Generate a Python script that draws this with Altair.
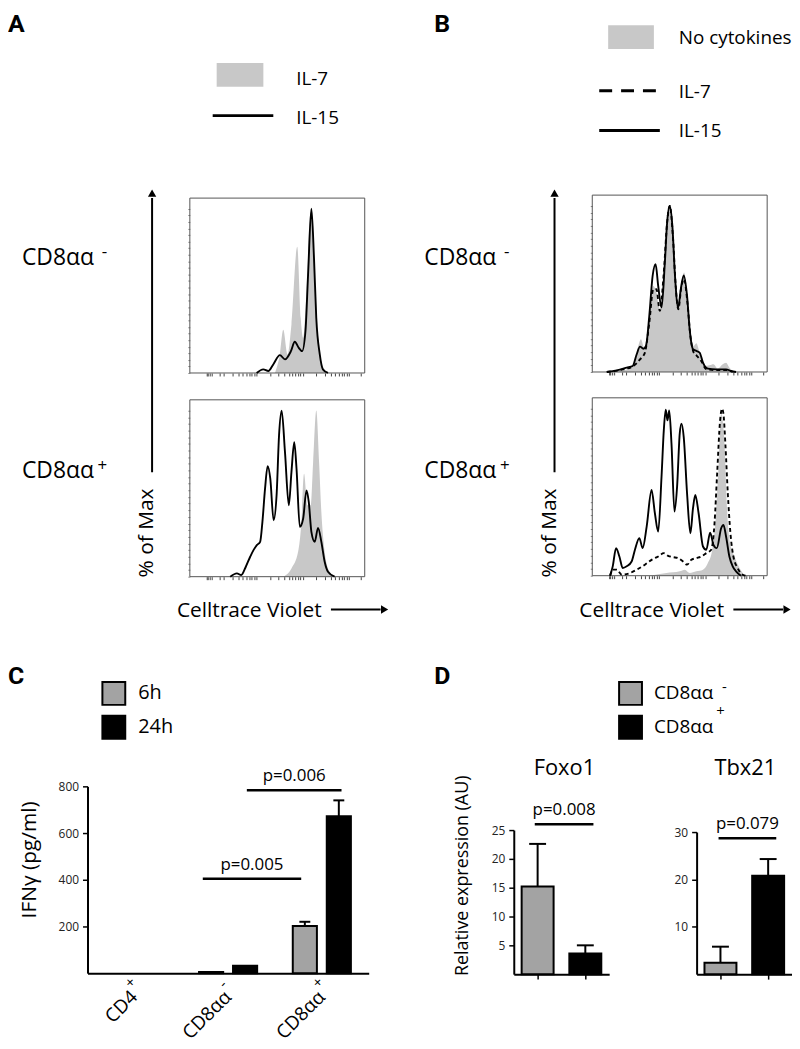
import altair as alt
import pandas as pd

# ------------------------------------------------------------------ data
# Flow histograms: x = position along the Celltrace Violet axis (0-100 % of axis),
# y = % of max.  Vertex lists.
HIST_X_TICKS = [9.5, 10.5, 11.5, 12.5, 17.0, 19.6, 24.3, 27.6, 30.2, 32.2, 34.0, 35.5,
                36.9, 38.1, 46.0, 50.7, 54.0, 56.6, 58.6, 60.4, 61.9, 63.2, 64.5, 72.4,
                77.1, 80.4, 83.0, 85.0, 86.8, 88.3, 89.6, 90.9, 97.5]
HIST_Y_TICKS = [0, 4, 8, 12, 16, 20, 24, 28, 32, 36, 40, 44, 48, 52, 56, 60, 64, 68,
                72, 76, 80, 84, 88, 92, 96, 100]

A_TOP_IL7_X = [48.7, 51.5, 53.4, 55.9, 58.1, 61.4, 63.4, 64.8, 66.7, 69.1, 71.4, 73.3, 75.6, 78.4]
A_TOP_IL7_Y = [0, 11.5, 26.4, 11.3, 29.5, 76.8, 33.5, 21.4, 49.6, 98, 59.7, 21.4, 4.2, 0]
A_TOP_IL15_X = [38.2, 42.0, 44.9, 47.7, 51.5, 54.4, 57.8, 60.0, 62.3, 64.2, 66.1, 67.6,
                69.5, 71.0, 72.3, 74.3, 76.1, 79.0]
A_TOP_IL15_Y = [0, 2.2, 1.2, 5.2, 10.9, 8.3, 13.3, 19.0, 15.3, 13.3, 25.4, 59.7,
                100, 69.8, 33.5, 11.3, 2.2, 0]

A_BOT_IL7_X = [53.4, 58.1, 61.9, 63.8, 65.3, 67.2, 69.1, 70.5, 72.3, 73.9, 75.2, 77.1, 79.0, 81.8, 83.5]
A_BOT_IL7_Y = [0, 5, 15, 33, 62, 43, 43, 69, 100, 69, 39, 15, 5, 1, 0]
A_BOT_IL15_X = [23.1, 26.9, 29.4, 32.0, 34.5, 36.4, 38.3, 40.2, 41.5, 43.0, 44.5, 46.0,
                47.9, 49.6, 51.0, 52.5, 54.4, 56.6, 58.1, 59.7, 61.0, 62.9, 64.8, 66.7,
                68.0, 69.5, 71.4, 73.3, 75.2, 77.1, 79.0, 82.8]
A_BOT_IL15_Y = [0, 2.0, 1.0, 6.0, 12, 16, 19, 21, 33, 53, 66.6, 59,
                34, 49, 85, 100, 75, 43, 63, 81, 65, 30, 35, 52,
                45, 27, 21, 29.4, 21, 9, 3, 0]

B_TOP_NONE_X = [10.2, 17.8, 23.5, 26.3, 27.8, 29.7, 32.6, 34.9, 36.7, 38.6, 40.9, 42.8,
                44.3, 46.2, 47.7, 49.2, 51.0, 52.5, 54.4, 56.1, 58.0, 59.5, 61.4, 64.2,
                67.0, 69.3, 71.8, 74.6, 76.5, 78.4, 81.2]
B_TOP_NONE_Y = [0, 1, 3.6, 15.7, 19.7, 14.7, 31.8, 51.8, 47.8, 37.8, 61.9, 90,
                99, 80, 55.8, 39.8, 53.8, 59.9, 43.8, 23.7, 15.7, 17.3, 11.7, 3.6,
                4, 4.6, 2, 4.6, 5.6, 2.6, 0]
B_TOP_IL7_X = [8.3, 17.8, 23.5, 27.3, 30.1, 32.6, 34.9, 36.7, 38.6, 40.9, 42.8, 44.3,
               46.2, 47.7, 49.2, 51.0, 52.5, 54.4, 56.1, 58.0, 59.9, 62.3, 65.2, 70.8,
               76.5, 80.3]
B_TOP_IL7_Y = [0, 1.6, 3.6, 7.6, 11.7, 29.7, 49.8, 49.8, 36.8, 59.9, 90, 100,
               80, 52, 37.8, 51.8, 55.8, 41.8, 21.7, 11.7, 9.6, 6.6, 1.6, 1.2,
               1.2, 0]
B_TOP_IL15_X = [8.3, 14.0, 19.7, 23.1, 25.4, 27.3, 29.2, 30.7, 32.6, 34.5, 36.2, 37.7,
                39.6, 41.5, 42.8, 44.3, 45.8, 47.3, 49.1, 50.6, 52.3, 54.2, 55.7, 57.6,
                59.5, 61.4, 63.3, 66.1, 70.8, 76.5, 79.4, 82.2]
B_TOP_IL15_Y = [0, 1, 2.6, 3.6, 10.7, 15.3, 14, 15.7, 33.7, 57.8, 64.9, 51.8,
                38.8, 65.9, 90, 100, 88, 57.8, 38.8, 49.8, 58.2, 45.8, 25.7, 13.7,
                12.7, 11.7, 5.6, 2, 1.6, 1.6, 0.6, 0]

B_BOT_NONE_X = [33.0, 42.4, 50.0, 52.9, 55.7, 59.5, 63.3, 66.1, 68.6, 70.5, 72.4, 73.7,
                75.6, 76.9, 78.4, 81.3, 83.7, 86.0, 87.9]
B_BOT_NONE_Y = [0, 1.6, 2.6, 3.6, 1.6, 2.6, 3.6, 7.6, 15.5, 33.4, 69.2, 97,
                79, 43.3, 21.5, 11.5, 5.6, 1.6, 0]
B_BOT_IL7_X = [10.2, 11.7, 14.0, 16.9, 21.6, 25.4, 30.1, 33.9, 37.7, 40.9, 43.4, 46.2,
               49.1, 51.9, 54.2, 56.6, 59.5, 62.3, 65.2, 68.0, 69.9, 71.4, 73.1, 74.2,
               75.0, 76.1, 77.5, 79.0, 80.7, 83.1, 86.0, 87.9]
B_BOT_IL7_Y = [0, 3.6, 3.6, 0.6, 1.6, 3.6, 6.6, 9.5, 11.5, 13.5, 11.9, 11.1,
               10.5, 8.5, 6.6, 9.5, 10.5, 11.5, 13.5, 15.5, 31.4, 61.2, 93, 100,
               97, 79, 49.3, 25.4, 11.5, 4.6, 0.6, 0]
B_BOT_IL15_X = [10.2, 11.7, 13.6, 15.5, 17.4, 19.7, 22.5, 24.4, 26.9, 28.8, 31.1, 33.9,
                35.8, 37.7, 39.6, 40.9, 42.0, 43.0, 44.0, 45.3, 47.0, 48.5, 50.0, 51.0,
                52.3, 54.2, 56.1, 57.6, 58.9, 60.8, 63.3, 65.2, 67.4, 69.3, 71.2, 73.7,
                75.0, 76.5, 78.4, 80.3, 82.2, 85.0]
B_BOT_IL15_Y = [0, 5.6, 16.5, 11.5, 4.6, 5.6, 8.5, 15.5, 22.5, 16.5, 29.4, 51.3,
                37.4, 26.4, 59.2, 87, 99.4, 93, 99, 79, 38.4, 53.3, 85, 91,
                83, 49.3, 25.4, 40.4, 48.3, 37.4, 17.5, 15.5, 25.8, 18.5, 16.5, 28.4,
                30.4, 23.5, 11.5, 5.6, 2.6, 0]

# Panel C: IFN-gamma
C_CAT_BASE = ["CD4", "CD8αα", "CD8αα"]
C_CAT_SUP = ["+", "-", "+"]
C_CATS = [b + s for b, s in zip(C_CAT_BASE, C_CAT_SUP)]
C_GROUPS = ["6h", "24h"]
C_6H = [0, 5, 202]
C_6H_ERR = [None, None, 220]
C_24H = [0, 32, 672]
C_24H_ERR = [None, None, 740]
C_Y_TICKS = [200, 400, 600, 800]
C_P_LABELS = ["p=0.005", "p=0.006"]
C_P_FROM = [0.73, 1.20]      # in category units (0 = first category centre)
C_P_TO = [1.78, 2.21]
C_P_Y = [404, 783]

# Panel D: qPCR
D_CAT_BASE = ["CD8αα", "CD8αα"]
D_CAT_SUP = ["-", "+"]
D_CATS = [b + s for b, s in zip(D_CAT_BASE, D_CAT_SUP)]
D_GENES = ["Foxo1", "Tbx21"]
FOXO1 = [15.2, 3.6]
FOXO1_ERR = [22.6, 5.0]
TBX21 = [2.4, 20.8]
TBX21_ERR = [5.8, 24.3]
FOXO1_TICKS = [5, 10, 15, 20, 25]
TBX21_TICKS = [10, 20, 30]
D_P_LABELS = ["p=0.008", "p=0.079"]
D_P_FROM = [-0.06, -0.04]
D_P_TO = [1.17, 1.17]
D_P_Y = [26.0, 28.7]

# Texts
PANEL_LETTERS = ["A", "B", "C", "D"]
ROW_BASE = "CD8αα"
ROW_SUP = ["-", "+"]
Y_CAPTION = "% of Max"
X_CAPTION = "Celltrace Violet"
LEGEND_A = ["IL-7", "IL-15"]
LEGEND_B = ["No cytokines", "IL-7", "IL-15"]
C_YTITLE = "IFNγ  (pg/ml)"
D_YTITLE = "Relative expression (AU)"

# ------------------------------------------------------------------ style / layout
W, H = 784, 1033
FONT = "Open Sans"
HIST_GRAY = "#c8c8c8"
BAR_GRAY = "#a3a3a3"
YMAX = 106.5


def P(v):
    """page pixel -> plot pixel"""
    return v - 8


def one():
    return pd.DataFrame({"k": [0]})


def txt(s, x, y, size=19, align="left", baseline="middle", angle=0, weight="normal",
        font=FONT):
    return alt.Chart(pd.DataFrame({"t": [s]})).mark_text(
        align=align, baseline=baseline, fontSize=size, font=font, fontWeight=weight,
        angle=angle, color="black"
    ).encode(x=alt.value(P(x)), y=alt.value(P(y)), text="t:N")


def hrule(x1, x2, y, width=3, dash=None):
    kw = dict(color="black", strokeWidth=width)
    if dash:
        kw["strokeDash"] = dash
    return alt.Chart(one()).mark_rule(**kw).encode(
        x=alt.value(P(x1)), x2=alt.value(P(x2)), y=alt.value(P(y)))


def vrule(x, y1, y2, width=2):
    return alt.Chart(one()).mark_rule(color="black", strokeWidth=width).encode(
        x=alt.value(P(x)), y=alt.value(P(y1)), y2=alt.value(P(y2)))


def swatch(x1, x2, y1, y2, color):
    return alt.Chart(one()).mark_rect(color=color).encode(
        x=alt.value(P(x1)), x2=alt.value(P(x2)), y=alt.value(P(y1)), y2=alt.value(P(y2)))


def head(x, y, shape):
    return alt.Chart(one()).mark_point(shape=shape, filled=True, color="black",
                                       opacity=1, size=70).encode(
        x=alt.value(P(x)), y=alt.value(P(y)))


def hist(box, fills, solids, dashes):
    l, t, r, b = box
    sx = alt.Scale(domain=[0, 100], range=[P(l), P(r)], nice=False, zero=False)
    sy = alt.Scale(domain=[0, YMAX], range=[P(b), P(t)], nice=False, zero=False)
    axx = alt.Axis(orient="bottom", offset=P(b) - H, values=HIST_X_TICKS, labels=False,
                   domain=False, ticks=True, tickSize=3, tickColor="#444", tickWidth=1,
                   grid=False, title=None)
    axy = alt.Axis(orient="left", offset=-P(l), values=HIST_Y_TICKS, labels=False,
                   domain=False, ticks=True, tickSize=2, tickColor="#888", tickWidth=1,
                   grid=False, title=None)
    layers = []
    for xs, ys in fills:
        layers.append(alt.Chart(pd.DataFrame({"x": xs, "y": ys})).mark_area(
            color=HIST_GRAY, interpolate="monotone", opacity=1).encode(
            x=alt.X("x:Q", scale=sx, axis=axx), y=alt.Y("y:Q", scale=sy, axis=axy)))
    frame = pd.DataFrame({"x0": [0], "x1": [100], "y0": [0], "y1": [YMAX]})
    layers.append(alt.Chart(frame).mark_rect(fillOpacity=0, stroke="#555", strokeWidth=1).encode(
        x=alt.X("x0:Q", scale=sx, axis=axx), x2="x1:Q",
        y=alt.Y("y0:Q", scale=sy, axis=axy), y2="y1:Q"))
    for xs, ys in dashes:
        layers.append(alt.Chart(pd.DataFrame({"x": xs, "y": ys})).mark_line(
            color="black", strokeWidth=1.9, strokeDash=[4, 3], interpolate="monotone").encode(
            x=alt.X("x:Q", scale=sx, axis=axx), y=alt.Y("y:Q", scale=sy, axis=axy)))
    for xs, ys in solids:
        layers.append(alt.Chart(pd.DataFrame({"x": xs, "y": ys})).mark_line(
            color="black", strokeWidth=1.9, interpolate="monotone").encode(
            x=alt.X("x:Q", scale=sx, axis=axx), y=alt.Y("y:Q", scale=sy, axis=axy)))
    return alt.layer(*layers)


layers = []

# ---------------- panels A / B : histograms
BOX_A_TOP = (191, 196, 367, 372)
BOX_A_BOT = (191, 399, 367, 577)
BOX_B_TOP = (596, 193, 772, 371)
BOX_B_BOT = (596, 397, 772, 576)

layers.append(hist(BOX_A_TOP, [(A_TOP_IL7_X, A_TOP_IL7_Y)], [(A_TOP_IL15_X, A_TOP_IL15_Y)], []))
layers.append(hist(BOX_A_BOT, [(A_BOT_IL7_X, A_BOT_IL7_Y)], [(A_BOT_IL15_X, A_BOT_IL15_Y)], []))
layers.append(hist(BOX_B_TOP, [(B_TOP_NONE_X, B_TOP_NONE_Y)], [(B_TOP_IL15_X, B_TOP_IL15_Y)],
                   [(B_TOP_IL7_X, B_TOP_IL7_Y)]))
layers.append(hist(BOX_B_BOT, [(B_BOT_NONE_X, B_BOT_NONE_Y)], [(B_BOT_IL15_X, B_BOT_IL15_Y)],
                   [(B_BOT_IL7_X, B_BOT_IL7_Y)]))

for dx in (0, 405):
    layers.append(txt(ROW_BASE, 22 + dx, 263, size=23, baseline="alphabetic"))
    layers.append(txt(ROW_SUP[0], 105 + dx, 250, size=17, align="center"))
    layers.append(txt(ROW_BASE, 22 + dx, 478, size=23, baseline="alphabetic"))
    layers.append(txt(ROW_SUP[1], 103 + dx, 466, size=17, align="center"))
    layers.append(txt(Y_CAPTION, 148 + dx, 533, size=21, align="center", angle=270))
    layers.append(vrule(153 + dx, 472, 196))
    layers.append(head(153 + dx, 191, "triangle-up"))
    layers.append(txt(X_CAPTION, 178 + dx, 618, size=21, baseline="alphabetic"))
    layers.append(hrule(333 + dx, 383 + dx, 610, width=2))
    layers.append(head(387 + dx, 610, "triangle-right"))

# legends A / B
layers.append(swatch(218, 265, 60, 84, HIST_GRAY))
layers.append(txt(LEGEND_A[0], 298, 76))
layers.append(hrule(214, 275, 113))
layers.append(txt(LEGEND_A[1], 298, 115))

layers.append(swatch(612, 658, 22, 46, HIST_GRAY))
layers.append(txt(LEGEND_B[0], 683, 35))
layers.append(hrule(603, 664, 88, dash=[13, 9]))
layers.append(txt(LEGEND_B[1], 683, 89))
layers.append(hrule(603, 664, 128))
layers.append(txt(LEGEND_B[2], 683, 129))

# panel letters
for s, x, y in zip(PANEL_LETTERS, [8, 437, 8, 437], [29, 29, 685, 685]):
    layers.append(txt(s, x, y, size=25, weight="bold", baseline="alphabetic", font="Roboto"))

# ---------------- panel C : bars
rows, err_rows = [], []
for g, vals, errs in ((C_GROUPS[0], C_6H, C_6H_ERR), (C_GROUPS[1], C_24H, C_24H_ERR)):
    for c, v, e in zip(C_CATS, vals, errs):
        rows.append({"cat": c, "grp": g, "val": v})
        if e is not None:
            err_rows.append({"cat": c, "grp": g, "val": v, "err": e})
dfC = pd.DataFrame(rows)
dfCe = pd.DataFrame(err_rows)
dfCl = pd.DataFrame({"cat": C_CATS, "base": C_CAT_BASE, "sup": C_CAT_SUP})

C_X0, C_X1, C_Y0, C_Y1 = 88, 371, 976, 788
xC = alt.Scale(domain=C_CATS, range=[P(C_X0), P(C_X1)], paddingInner=0.38, paddingOuter=0.19)
xoC = alt.Scale(domain=C_GROUPS, paddingInner=0.29)
yC = alt.Scale(domain=[0, 800], range=[P(C_Y0), P(C_Y1)], nice=False, zero=True)
axCx = alt.Axis(orient="bottom", offset=P(C_Y0) - H, ticks=False, domain=True, domainColor="black",
                domainWidth=2, labels=False, title=None, grid=False)
axCy = alt.Axis(orient="left", offset=-P(C_X0), values=C_Y_TICKS, domainColor="black",
                domainWidth=2, tickColor="black", tickWidth=1.5, tickSize=5,
                labelFont=FONT, labelFontSize=12, labelColor="#222", labelPadding=4,
                title=None, grid=False)
legC = alt.Legend(orient="none", legendX=P(102), legendY=P(682), title=None,
                  symbolType="square", symbolSize=529, symbolStrokeColor="black",
                  symbolStrokeWidth=2, symbolOpacity=1, labelFont=FONT, labelFontSize=20,
                  labelColor="black", labelOffset=12, rowPadding=3, padding=0)

barsC = alt.Chart(dfC).transform_filter("datum.val > 0").mark_bar(
    stroke="black", strokeWidth=2).encode(
    x=alt.X("cat:N", scale=xC, axis=axCx, sort=C_CATS),
    xOffset=alt.XOffset("grp:N", scale=xoC, sort=C_GROUPS),
    y=alt.Y("val:Q", scale=yC, axis=axCy, stack=None),
    fill=alt.Fill("grp:N", scale=alt.Scale(domain=C_GROUPS, range=[BAR_GRAY, "black"]), legend=legC),
)
errC = alt.Chart(dfCe).mark_rule(color="black", strokeWidth=2).encode(
    x=alt.X("cat:N", scale=xC, axis=axCx, sort=C_CATS),
    xOffset=alt.XOffset("grp:N", scale=xoC, sort=C_GROUPS),
    y=alt.Y("val:Q", scale=yC, axis=axCy), y2="err:Q")
capC = alt.Chart(dfCe).mark_tick(color="black", thickness=2, size=11, opacity=1).encode(
    x=alt.X("cat:N", scale=xC, axis=axCx, sort=C_CATS),
    xOffset=alt.XOffset("grp:N", scale=xoC, sort=C_GROUPS),
    y=alt.Y("err:Q", scale=yC, axis=axCy))
labC = alt.Chart(dfCl).mark_text(font=FONT, fontSize=19, angle=315, align="right",
                                 baseline="middle", color="black").encode(
    x=alt.X("cat:N", scale=xC, axis=axCx, sort=C_CATS), y=alt.value(P(997)), text="base:N")
supC = alt.Chart(dfCl).mark_text(font=FONT, fontSize=15, angle=315, align="left",
                                 baseline="middle", color="black", dx=1, dy=-11).encode(
    x=alt.X("cat:N", scale=xC, axis=axCx, sort=C_CATS), y=alt.value(P(997)), text="sup:N")
layers.append(alt.layer(barsC, errC, capC, labC, supC))

# brackets C (linear scale in category units, aligned to the band centres)
xCl = alt.Scale(domain=[-0.5, len(C_CATS) - 0.5], range=[P(C_X0), P(C_X1)], nice=False, zero=False)
dfCp = pd.DataFrame({"x0": C_P_FROM, "x1": C_P_TO, "y": C_P_Y, "label": C_P_LABELS})
brC = alt.Chart(dfCp).mark_rule(color="black", strokeWidth=2.5).encode(
    x=alt.X("x0:Q", scale=xCl, axis=None), x2="x1:Q",
    y=alt.Y("y:Q", scale=yC, axis=None))
brCt = alt.Chart(dfCp).transform_calculate(xm="(datum.x0 + datum.x1) / 2").mark_text(
    font=FONT, fontSize=17, dy=-14, baseline="middle", align="center", color="black").encode(
    x=alt.X("xm:Q", scale=xCl, axis=None), y=alt.Y("y:Q", scale=yC, axis=None), text="label:N")
layers.append(alt.layer(brC, brCt))
layers.append(txt(C_YTITLE, 30, 862, size=21, align="center", angle=270))


# ---------------- panel D
def dpanel(vals, errs, ticks, ymax, x0, x1, ybase, ytop, pfrom, pto, py, plabel, legend):
    df = pd.DataFrame({"cat": D_CATS, "val": vals, "err": errs})
    xs = alt.Scale(domain=D_CATS, range=[P(x0), P(x1)], paddingInner=0.33, paddingOuter=0.165)
    ys = alt.Scale(domain=[0, ymax], range=[P(ybase), P(ytop)], nice=False, zero=True)
    axx = alt.Axis(orient="bottom", offset=P(ybase) - H, labels=False, ticks=True, tickSize=5,
                   tickColor="black", tickWidth=1.5, domainColor="black", domainWidth=2,
                   title=None, grid=False)
    axy = alt.Axis(orient="left", offset=-P(x0), values=ticks, domainColor="black",
                   domainWidth=2, tickColor="black", tickWidth=1.5, tickSize=5,
                   labelFont=FONT, labelFontSize=12, labelColor="#222", labelPadding=4,
                   title=None, grid=False)
    fill = alt.Fill("cat:N", scale=alt.Scale(domain=D_CATS, range=[BAR_GRAY, "black"]),
                    legend=legend)
    bars = alt.Chart(df).mark_bar(stroke="black", strokeWidth=2).encode(
        x=alt.X("cat:N", scale=xs, axis=axx, sort=D_CATS),
        y=alt.Y("val:Q", scale=ys, axis=axy), fill=fill)
    err = alt.Chart(df).mark_rule(color="black", strokeWidth=2).encode(
        x=alt.X("cat:N", scale=xs, axis=axx, sort=D_CATS),
        y=alt.Y("val:Q", scale=ys, axis=axy), y2="err:Q")
    cap = alt.Chart(df).mark_tick(color="black", thickness=2, size=17, opacity=1).encode(
        x=alt.X("cat:N", scale=xs, axis=axx, sort=D_CATS),
        y=alt.Y("err:Q", scale=ys, axis=axy))
    xl = alt.Scale(domain=[-0.5, len(D_CATS) - 0.5], range=[P(x0), P(x1)], nice=False, zero=False)
    dp = pd.DataFrame({"x0": [pfrom], "x1": [pto], "y": [py], "label": [plabel]})
    br = alt.Chart(dp).mark_rule(color="black", strokeWidth=2.5).encode(
        x=alt.X("x0:Q", scale=xl, axis=None), x2="x1:Q", y=alt.Y("y:Q", scale=ys, axis=None))
    brt = alt.Chart(dp).transform_calculate(xm="(datum.x0 + datum.x1) / 2").mark_text(
        font=FONT, fontSize=17, dy=-14, baseline="middle", align="center", color="black").encode(
        x=alt.X("xm:Q", scale=xl, axis=None), y=alt.Y("y:Q", scale=ys, axis=None), text="label:N")
    return [alt.layer(bars, err, cap), alt.layer(br, brt)]


legD = alt.Legend(orient="none", legendX=P(622), legendY=P(682), title=None,
                  symbolType="square", symbolSize=529, symbolStrokeColor="black",
                  symbolStrokeWidth=2, symbolOpacity=1, labelFont=FONT, labelFontSize=19,
                  labelColor="black", labelOffset=11, rowPadding=3, padding=0,
                  labelExpr="replace(replace(datum.label, '-', ''), '+', '')")

layers += dpanel(FOXO1, FOXO1_ERR, FOXO1_TICKS, 25, 517, 613, 977, 832,
                 D_P_FROM[0], D_P_TO[0], D_P_Y[0], D_P_LABELS[0], legD)
layers += dpanel(TBX21, TBX21_ERR, TBX21_TICKS, 30, 701, 797, 977, 834,
                 D_P_FROM[1], D_P_TO[1], D_P_Y[1], D_P_LABELS[1], None)
layers.append(txt(D_CAT_SUP[0], 729, 688, size=15, align="center"))
layers.append(txt(D_CAT_SUP[1], 725, 712, size=15, align="center"))
layers.append(txt(D_GENES[0], 568, 770, size=22, align="center"))
layers.append(txt(D_GENES[1], 750, 770, size=22, align="center"))
layers.append(txt(D_YTITLE, 466, 878, size=18, align="center", angle=270))

chart = alt.layer(*layers).resolve_scale(
    x="independent", y="independent", fill="independent"
).properties(width=W, height=H, padding=0).configure_view(stroke=None).configure_axis(grid=False)

chart.save("out.html", embed_options={"renderer": "svg", "actions": False})
